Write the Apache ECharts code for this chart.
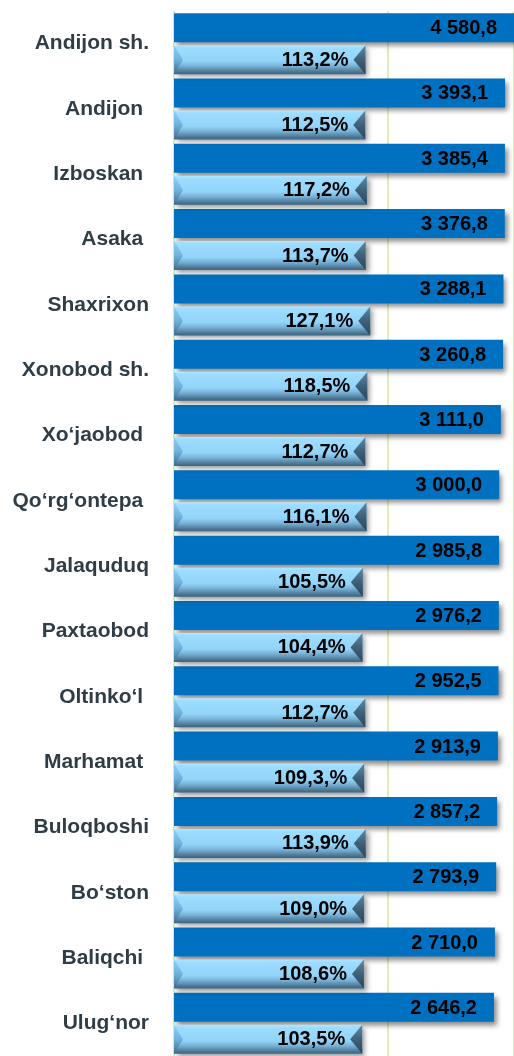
<!DOCTYPE html>
<html>
<head>
<meta charset="utf-8">
<script src="https://cdn.jsdelivr.net/npm/echarts@6/dist/echarts.min.js"></script>
<style>
html, body { margin: 0; padding: 0; background: #fff; }
#chart { width: 514px; height: 1056px; }
</style>
</head>
<body>
<div id="chart"></div>
<script>
// tumanlar / shaharlar
var districts = ['Andijon sh.', 'Andijon ', 'Izboskan ', 'Asaka ', 'Shaxrixon', 'Xonobod sh.',
    'Xo‘jaobod ', 'Qo‘rg‘ontepa ', 'Jalaquduq', 'Paxtaobod', 'Oltinko‘l ', 'Marhamat ',
    'Buloqboshi', 'Bo‘ston', 'Baliqchi ', 'Ulug‘nor'];
// hajm
var volume = [4580.8, 3393.1, 3385.4, 3376.8, 3288.1, 3260.8, 3111.0, 3000.0,
    2985.8, 2976.2, 2952.5, 2913.9, 2857.2, 2793.9, 2710.0, 2646.2];
// o'sish sur'ati, %
var growth = [113.2, 112.5, 117.2, 113.7, 127.1, 118.5, 112.7, 116.1,
    105.5, 104.4, 112.7, 109.3, 113.9, 109.0, 108.6, 103.5];
// yozuvlar rasmdagidek
var growthText = ['113,2%', '112,5%', '117,2%', '113,7%', '127,1%', '118,5%', '112,7%', '116,1%',
    '105,5%', '104,4%', '112,7%', '109,3,%', '113,9%', '109,0%', '108,6%', '103,5%'];

var font = '"Liberation Sans", Arial, sans-serif';
var labelFont = 'bold 20px ' + font;

function fmtNum(v) {
    var s = v.toFixed(1).split('.');
    return s[0].replace(/\B(?=(\d{3})+(?!\d))/g, ' ') + ',' + s[1];
}

function pairs(arr) {
    return arr.map(function (v, i) { return [v, i]; });
}

var G = echarts.graphic;

// to'q ko'k ustun
function renderVolume(params, api) {
    var end = api.coord([api.value(0), api.value(1)]);
    var x0 = params.coordSys.x;
    var y0 = end[1] - 30.5;
    var h = 29;
    return {
        type: 'group',
        children: [
            {
                type: 'rect',
                shape: { x: x0, y: y0, width: end[0] - x0, height: h },
                style: {
                    fill: '#0070C0',
                    shadowColor: 'rgba(0,0,0,0.45)',
                    shadowBlur: 5,
                    shadowOffsetX: 3,
                    shadowOffsetY: 4
                }
            },
            {
                type: 'text',
                style: {
                    text: fmtNum(api.value(0)),
                    x: Math.min(end[0], 514) - 17,
                    y: y0 + h / 2 + 1,
                    align: 'right',
                    verticalAlign: 'middle',
                    font: labelFont,
                    fill: '#000'
                }
            }
        ]
    };
}

// och ko'k bo'rtma ustun
function renderGrowth(params, api) {
    var idx = api.value(1);
    var end = api.coord([api.value(0), idx]);
    var x0 = params.coordSys.x;
    var x1 = end[0];
    var y0 = end[1] + 1.5;
    var h = 29;
    var y1 = y0 + h;
    var ym = y0 + h / 2;
    return {
        type: 'group',
        children: [
            {
                type: 'rect',
                shape: { x: x0, y: y0, width: x1 - x0, height: h },
                style: {
                    fill: new G.LinearGradient(0, 0, 0, 1, [
                        { offset: 0, color: '#B2E6FF' },
                        { offset: 0.1, color: '#9CDCFF' },
                        { offset: 0.55, color: '#93D4F9' },
                        { offset: 0.72, color: '#79B1D6' },
                        { offset: 0.9, color: '#4E7C9A' },
                        { offset: 1, color: '#3B6380' }
                    ]),
                    shadowColor: 'rgba(0,0,0,0.4)',
                    shadowBlur: 5,
                    shadowOffsetX: 3,
                    shadowOffsetY: 3
                }
            },
            {
                type: 'polygon',
                shape: { points: [[x0, y0], [x0 + 9, ym], [x0, y1]] },
                style: {
                    fill: new G.LinearGradient(0, 0, 0, 1, [
                        { offset: 0, color: '#8FD0F7' },
                        { offset: 0.5, color: '#6FB2DE' },
                        { offset: 1, color: '#3F6D8C' }
                    ])
                }
            },
            {
                type: 'polygon',
                shape: { points: [[x1, y0], [x1 - 12, ym], [x1, y1]] },
                style: {
                    fill: new G.LinearGradient(0, 0, 0, 1, [
                        { offset: 0, color: '#5F8AA6' },
                        { offset: 0.5, color: '#3E6079' },
                        { offset: 1, color: '#2C465A' }
                    ])
                }
            },
            {
                type: 'text',
                style: {
                    text: growthText[idx],
                    x: x1 - 17,
                    y: ym + 0.5,
                    align: 'right',
                    verticalAlign: 'middle',
                    font: labelFont,
                    fill: '#000'
                }
            }
        ]
    };
}

var chart = echarts.init(document.getElementById('chart'));
var option = {
    backgroundColor: '#ffffff',
    animation: false,
    grid: { left: 174, right: 0, top: 11, bottom: 0, containLabel: false },
    xAxis: [
        { type: 'value', min: -19000, max: 4000, show: false },
        { type: 'value', min: -450, max: 550, show: false },
        {
            type: 'value', min: 0, max: 340, interval: 214,
            axisLine: { show: false }, axisTick: { show: false }, axisLabel: { show: false },
            splitLine: { show: true, lineStyle: { color: '#D3E8A4', width: 1.5 } }
        }
    ],
    yAxis: {
        type: 'category',
        inverse: true,
        data: districts,
        axisLine: { show: false },
        axisTick: { show: false },
        axisLabel: {
            margin: 25,
            color: '#2F3D46',
            fontFamily: font,
            fontWeight: 'bold',
            fontSize: 21
        }
    },
    series: [
        {
            name: 'hajm',
            type: 'custom',
            xAxisIndex: 0,
            encode: { x: 0, y: 1 },
            data: pairs(volume),
            renderItem: renderVolume
        },
        {
            name: "o'sish",
            type: 'custom',
            xAxisIndex: 1,
            encode: { x: 0, y: 1 },
            data: pairs(growth),
            renderItem: renderGrowth
        }
    ]
};
chart.setOption(option);
</script>
</body>
</html>
